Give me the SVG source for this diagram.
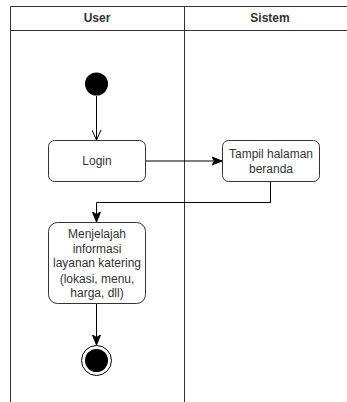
<svg xmlns="http://www.w3.org/2000/svg" width="347" height="402" viewBox="0 0 347 402">
<defs>
<style>
.lane{fill:none;stroke:#333;stroke-width:1}
.hdr{font-family:"Liberation Sans",Arial,sans-serif;font-size:12px;font-weight:bold;fill:#333;text-anchor:middle}
.box{fill:#fff;stroke:#333;stroke-width:1}
.t{font-family:"Liberation Sans",Arial,sans-serif;font-size:12px;fill:#333;text-anchor:middle}
.e{fill:none;stroke:#000;stroke-width:1}
</style>
<marker id="fa" viewBox="0 0 10 10" refX="10" refY="5" markerWidth="10" markerHeight="10" markerUnits="userSpaceOnUse" orient="auto">
<path d="M0,1 L10,5 L0,9 L2.5,5 Z" fill="#000" stroke="#000" stroke-width="1"/>
</marker>
<marker id="oa" viewBox="0 0 10 10" refX="10" refY="5" markerWidth="10" markerHeight="10" markerUnits="userSpaceOnUse" orient="auto">
<path d="M0,0.5 L10,5 L0,9.5" fill="none" stroke="#000" stroke-width="1"/>
</marker>
</defs>
<rect width="347" height="402" fill="#fff"/>
<g id="pool">
<path class="lane" d="M10.5,402 V6.5 H347 M10.5,30.5 H347 M184.5,6.5 V402"/>
<text class="hdr" x="97" y="22">User</text>
<text class="hdr" x="270" y="22">Sistem</text>
</g>
<g id="edges">
<path class="e" d="M96.5,96 V140" marker-end="url(#oa)"/>
<path class="e" d="M146,161 H222" marker-end="url(#fa)"/>
<path class="e" d="M270.5,182 V202.5 H96.5 V222" marker-end="url(#fa)"/>
<path class="e" d="M96.5,304 V345" marker-end="url(#fa)"/>
</g>
<g id="start"><circle cx="96.5" cy="84" r="11.5" fill="#000"/></g>
<g id="login">
<rect class="box" x="48.5" y="140.5" width="97" height="41" rx="6"/>
<text class="t" x="97" y="165">Login</text>
</g>
<g id="tampil">
<rect class="box" x="222.5" y="140.5" width="97" height="41" rx="6"/>
<text class="t" x="271" y="157.5">Tampil halaman</text>
<text class="t" x="271" y="172.5">beranda</text>
</g>
<g id="menjelajah">
<rect class="box" x="48.5" y="222.5" width="97" height="81" rx="9"/>
<text class="t" x="97" y="237.5">Menjelajah</text>
<text class="t" x="97" y="252.5">informasi</text>
<text class="t" x="97" y="267">layanan katering</text>
<text class="t" x="97" y="282.5">(lokasi, menu,</text>
<text class="t" x="97" y="296.5">harga, dll)</text>
</g>
<g id="end">
<circle cx="96.5" cy="360.5" r="15" fill="#fff" stroke="#000" stroke-width="1"/>
<circle cx="96.5" cy="360.5" r="11.5" fill="#000"/>
</g>
</svg>
